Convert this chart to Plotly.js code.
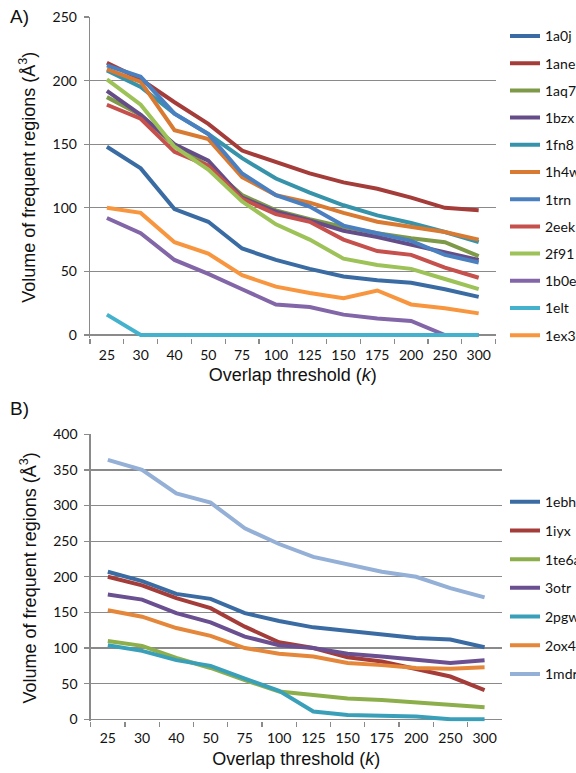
<!DOCTYPE html>
<html><head><meta charset="utf-8">
<script src="https://cdn.plot.ly/plotly-3.0.1.min.js"></script>
<style>html,body{margin:0;padding:0;background:#fff}#chart{width:576px;height:773px}</style>
</head><body><div id="chart"></div>
<script>
// Overlap thresholds (categories, shared by both panels)
const thresholds = ['25','30','40','50','75','100','125','150','175','200','250','300'];

// Panel A series
const a_1a0j = [148,131,99,89,68,59,52,46,43,41,36,30];
const a_1ane = [214,201,183,166,145,136,127,120,115,108,100,98];
const a_1aq7 = [187,173,149,133,110,98,91,85,80,76,73,62];
const a_1bzx = [192,173,150,137,108,97,90,82,77,71,65,59];
const a_1fn8 = [208,195,174,158,139,123,112,102,94,88,81,73];
const a_1h4w = [209,199,161,154,124,110,104,96,89,85,81,75];
const a_1trn = [212,203,174,158,127,110,101,86,80,74,63,57];
const a_2eek = [181,170,144,133,107,95,89,75,66,63,53,45];
const a_2f91 = [201,181,148,130,105,87,75,60,55,52,44,36];
const a_1b0e = [92,80,59,48,36,24,22,16,13,11,0,0];
const a_1elt = [16,0,0,0,0,0,0,0,0,0,0,0];
const a_1ex3 = [100,96,73,64,47,38,33,29,35,24,21,17];

// Panel B series
const b_1ebh = [207,194,176,169,149,138,129,124,119,114,112,101];
const b_1iyx = [200,188,170,156,130,108,100,87,81,70,60,41];
const b_1te6a = [110,103,86,72,55,39,34,29,27,24,21,17];
const b_3otr = [175,168,149,136,116,104,100,92,88,84,79,83];
const b_2pgw = [104,96,83,75,57,40,11,6,5,4,0,0];
const b_2ox4 = [153,144,128,117,100,92,88,79,76,72,71,73];
const b_1mdr = [364,350,317,304,268,246,228,217,207,200,184,171];

const seriesA = [
  ['1a0j', a_1a0j, '#3a6ca3'],
  ['1ane', a_1ane, '#a43d3a'],
  ['1aq7', a_1aq7, '#7e9a48'],
  ['1bzx', a_1bzx, '#654e87'],
  ['1fn8', a_1fn8, '#3693aa'],
  ['1h4w', a_1h4w, '#d87a31'],
  ['1trn', a_1trn, '#4a7fc0'],
  ['2eek', a_2eek, '#c5504c'],
  ['2f91', a_2f91, '#9dc257'],
  ['1b0e', a_1b0e, '#8266a8'],
  ['1elt', a_1elt, '#44b2cc'],
  ['1ex3', a_1ex3, '#f8963f']
];
const seriesB = [
  ['1ebh', b_1ebh, '#3a6ca3'],
  ['1iyx', b_1iyx, '#a43d3a'],
  ['1te6a', b_1te6a, '#8caf4c'],
  ['3otr', b_3otr, '#6a5090'],
  ['2pgw', b_2pgw, '#3aa0ba'],
  ['2ox4', b_2ox4, '#e5873a'],
  ['1mdr', b_1mdr, '#94b0d6']
];

const traces = [];
seriesA.forEach(function(s, i){
  traces.push({x: thresholds, y: s[1], name: s[0], type: 'scatter', mode: 'lines',
    line: {color: s[2], width: 4}, xaxis: 'x', yaxis: 'y', legend: 'legend', legendgroup: 'a' + i});
});
seriesB.forEach(function(s, i){
  traces.push({x: thresholds, y: s[1], name: s[0], type: 'scatter', mode: 'lines',
    line: {color: s[2], width: 4}, xaxis: 'x2', yaxis: 'y2', legend: 'legend2', legendgroup: 'b' + i});
});

const GRID = '#8a8a8a';
const tickFont = {family: 'Lato, Open Sans, sans-serif', size: 14, color: '#111'};
const titleFont = {family: 'Liberation Sans, Arial, sans-serif', size: 18, color: '#111'};

function xAxis(domain, anchor){
  return {domain: domain, anchor: anchor, type: 'category', range: [-0.5, thresholds.length - 0.5],
    showgrid: false, showline: false, zeroline: false,
    ticks: 'outside', tickson: 'boundaries', ticklen: 5, tickcolor: GRID, tickwidth: 1.3,
    ticklabelstandoff: 7,
    tickfont: tickFont, fixedrange: true,
    title: {text: 'Overlap threshold (<i>k</i>)', font: titleFont, standoff: 6}};
}
function yAxis(domain, anchor, range, vals){
  return {domain: domain, anchor: anchor, range: range, tickvals: vals, ticktext: vals.map(String),
    showgrid: true, gridcolor: GRID, gridwidth: 1.3,
    zeroline: true, zerolinecolor: GRID, zerolinewidth: 1.3,
    showline: true, linecolor: GRID, linewidth: 1.3,
    ticks: 'outside', ticklen: 5, tickcolor: GRID, tickwidth: 1.3, tickfont: tickFont, fixedrange: true,
    ticklabelstandoff: 4,
    title: {text: 'Volume of frequent regions (Å<sup>3</sup>)', font: titleFont, standoff: 12}};
}

const layout = {
  width: 576, height: 773,
  margin: {l: 0, r: 0, t: 0, b: 0, autoexpand: false},
  paper_bgcolor: '#fff', plot_bgcolor: '#fff',
  hovermode: false,
  xaxis: xAxis([0.15625, 0.86042], 'y'),
  yaxis: yAxis([0.56334, 0.97801], 'x', [-2, 250], [0,50,100,150,200,250]),
  xaxis2: xAxis([0.15747, 0.87101], 'y2'),
  yaxis2: yAxis([0.06675, 0.43816], 'x2', [-3, 400], [0,50,100,150,200,250,300,350,400]),
  legend: {x: 505/576, xanchor: 'left', y: 0.9736, yanchor: 'top', font: {family: 'Lato, sans-serif', size: 14, color: '#111'},
    tracegroupgap: 6, bgcolor: 'rgba(0,0,0,0)', borderwidth: 0, itemwidth: 30},
  legend2: {x: 505/576, xanchor: 'left', y: 0.3711, yanchor: 'top', font: {family: 'Lato, sans-serif', size: 14, color: '#111'},
    tracegroupgap: 7.5, bgcolor: 'rgba(0,0,0,0)', borderwidth: 0, itemwidth: 30},
  annotations: [
    {text: 'A)', xref: 'paper', yref: 'paper', x: 8/576, y: (773-17)/773, xanchor: 'left', yanchor: 'middle',
      showarrow: false, font: {family: 'Liberation Sans, Arial, sans-serif', size: 19, color: '#111'}},
    {text: 'B)', xref: 'paper', yref: 'paper', x: 8/576, y: (773-409)/773, xanchor: 'left', yanchor: 'middle',
      showarrow: false, font: {family: 'Liberation Sans, Arial, sans-serif', size: 19, color: '#111'}}
  ]
};

Plotly.newPlot('chart', traces, layout, {staticPlot: true, displayModeBar: false});
</script></body></html>
